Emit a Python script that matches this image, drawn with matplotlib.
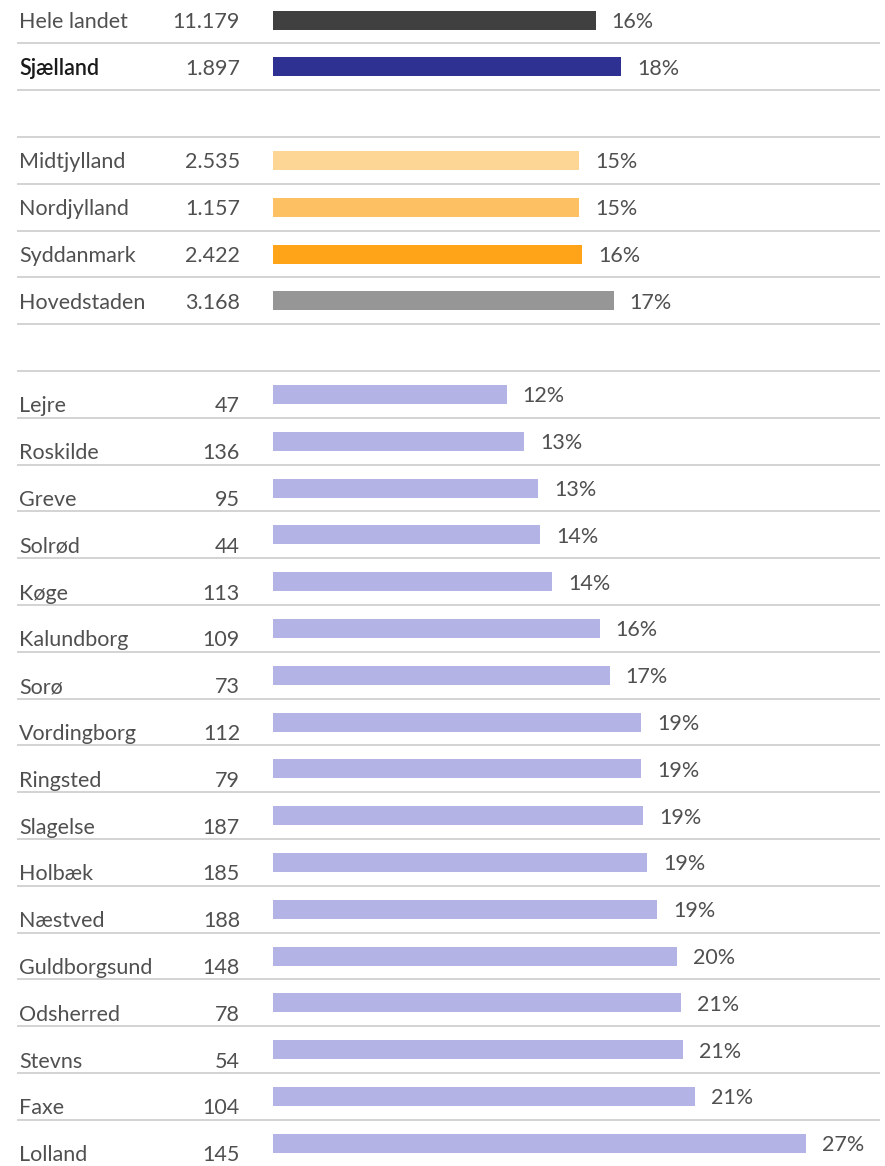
import matplotlib
matplotlib.use("Agg")
import matplotlib.pyplot as plt

# ---- data ----
names_top = ["Hele landet", "Sjælland"]
counts_top = ["11.179", "1.897"]
values_top = [16.3, 17.6]
labels_top = ["16%", "18%"]

names_reg = ["Midtjylland", "Nordjylland", "Syddanmark", "Hovedstaden"]
counts_reg = ["2.535", "1.157", "2.422", "3.168"]
values_reg = [15.45, 15.45, 15.6, 17.2]
labels_reg = ["15%", "15%", "16%", "17%"]

names_mun = ["Lejre", "Roskilde", "Greve", "Solrød", "Køge", "Kalundborg", "Sorø",
             "Vordingborg", "Ringsted", "Slagelse", "Holbæk", "Næstved",
             "Guldborgsund", "Odsherred", "Stevns", "Faxe", "Lolland"]
counts_mun = ["47", "136", "95", "44", "113", "109", "73", "112", "79", "187",
              "185", "188", "148", "78", "54", "104", "145"]
values_mun = [11.8, 12.7, 13.4, 13.5, 14.1, 16.5, 17.0, 18.6, 18.6, 18.7, 18.9,
              19.4, 20.4, 20.6, 20.7, 21.3, 26.9]
labels_mun = ["12%", "13%", "13%", "14%", "14%", "16%", "17%", "19%", "19%", "19%",
              "19%", "19%", "20%", "21%", "21%", "21%", "27%"]

colors_top = ["#404040", "#2E3192"]
colors_reg = ["#FDD696", "#FDC063", "#FFA319", "#969696"]
color_mun = "#B3B3E6"

# ---- layout ----
W, H, DPI = 885, 1166, 100
K = 19.8          # pixels per percent
X0 = 273          # bar start pixel
ROW = 46.8        # pixels per row
Y0 = 20           # centre of first row in pixels

fig = plt.figure(figsize=(W / DPI, H / DPI), dpi=DPI)
ax = fig.add_axes([0, 0, 1, 1])
ax.set_xlim(-X0 / K, (W - X0) / K)
ax.set_ylim((H - Y0) / ROW, -Y0 / ROW)
ax.axis("off")

FONT = ["Lato", "DejaVu Sans"]
FS = 15.5
TXT = "#505050"

def px(p):
    return (p - X0) / K

rows = []
for i in range(2):
    rows.append((i, names_top[i], counts_top[i], values_top[i], labels_top[i], colors_top[i], 8 / ROW, i == 1))
for j in range(4):
    rows.append((3 + j, names_reg[j], counts_reg[j], values_reg[j], labels_reg[j], colors_reg[j], 8 / ROW, False))
for j in range(len(names_mun)):
    rows.append((8 + j, names_mun[j], counts_mun[j], values_mun[j], labels_mun[j], color_mun, 18 / ROW, False))

ys = [r[0] for r in rows]
ax.barh(ys, [r[3] for r in rows], height=19 / ROW, color=[r[5] for r in rows], left=0)

for (y, name, cnt, val, lab, col, off, bold) in rows:
    ax.text(px(19), y + off, name, ha="left", va="baseline", fontsize=FS,
            family=FONT, color="#1a1a1a" if bold else TXT,
            fontweight="semibold" if bold else "normal")
    ax.text(px(240), y + off, cnt, ha="right", va="baseline", fontsize=FS,
            family=FONT, color=TXT)
    ax.text(val + 16 / K, y + 8 / ROW, lab, ha="left", va="baseline", fontsize=FS,
            family=FONT, color=TXT)

n_rows = 25
for i in range(n_rows - 1):
    ax.plot([px(17), px(880)], [i + 0.5, i + 0.5], color="#d0d0d0", lw=1.3,
            solid_capstyle="butt", zorder=0)

fig.savefig("out.png", dpi=DPI)
